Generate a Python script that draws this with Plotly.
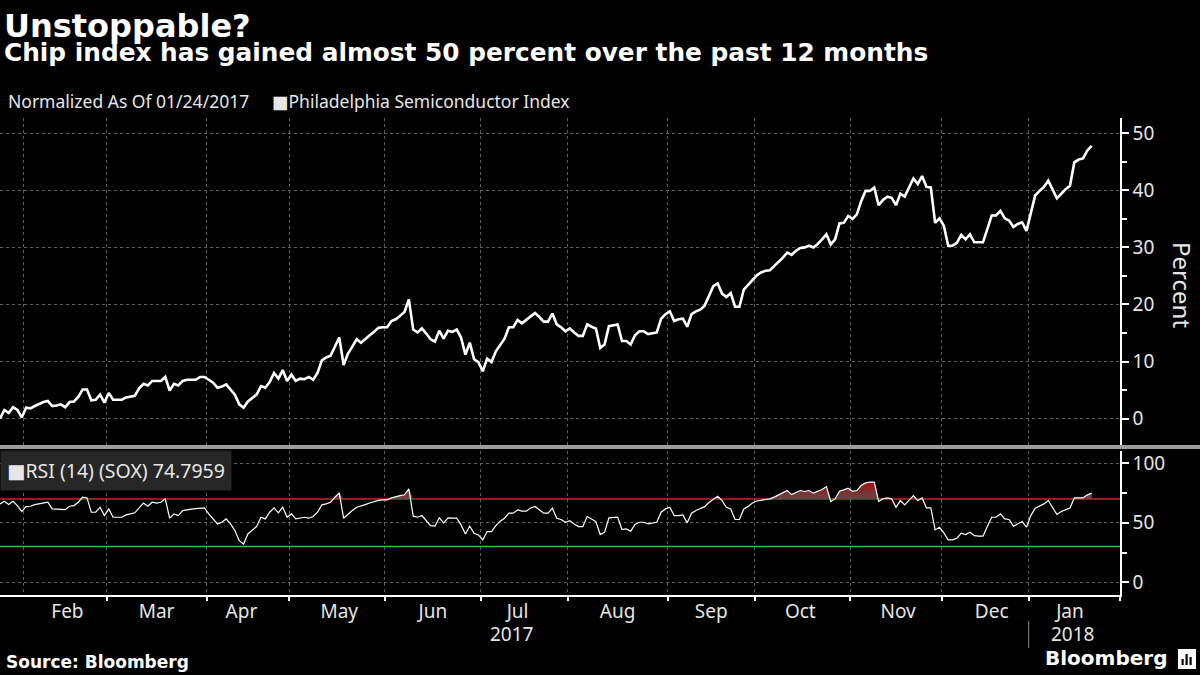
import numpy as np
import pandas as pd
import plotly.graph_objects as go
from plotly.subplots import make_subplots

# ---------------- text ----------------
TITLE = "Unstoppable?"
SUBTITLE = "Chip index has gained almost 50 percent over the past 12 months"
NORMALIZED_NOTE = "Normalized As Of 01/24/2017"
SERIES_NAME = "Philadelphia Semiconductor Index"
RSI_NAME = "RSI (14) (SOX)"
Y_TITLE = "Percent"
SOURCE = "Source: Bloomberg"
BRAND = "Bloomberg"
YEAR_LABELS = ["2017", "2018"]

# ---------------- calendar (trading days) ----------------
START_DATE = "2017-01-24"
END_DATE = "2018-01-23"
HOLIDAYS = ["2017-02-20", "2017-04-14", "2017-05-29", "2017-07-04", "2017-09-04",
            "2017-11-23", "2017-12-25", "2018-01-01", "2018-01-15"]
TRADING_DAYS = pd.bdate_range(START_DATE, END_DATE, freq="C", holidays=HOLIDAYS)

# ---------------- data ----------------
SOX_PCT = [
    0.0, 1.5, 1.0, 2.0, 1.5, 0.2, 1.9, 1.8, 2.2, 2.6,
    2.9, 3.1, 2.2, 2.3, 2.5, 2.0, 2.9, 3.0, 3.8, 5.1,
    5.1, 3.2, 3.3, 4.2, 2.8, 4.5, 3.3, 3.3, 3.3, 3.7,
    3.8, 4.0, 5.3, 6.1, 5.8, 6.6, 6.6, 6.6, 7.3, 4.9,
    6.1, 5.8, 6.6, 6.8, 6.8, 6.8, 7.3, 7.3, 6.8, 6.3,
    5.4, 5.6, 6.0, 5.0, 4.2, 2.5, 1.9, 3.0, 3.6, 4.2,
    5.7, 5.4, 6.4, 8.0, 7.0,
    8.5, 6.6, 7.7, 6.6, 7.0, 6.9, 7.3, 6.8, 8.0, 10.2,
    10.7, 11.0, 12.7, 14.2, 9.4, 11.4, 12.6, 13.9, 13.3, 14.0,
    14.6, 15.2, 15.9, 16.0, 16.0, 17.1, 17.4, 18.0, 18.7, 20.9,
    15.6, 15.1, 15.8, 14.9, 13.9, 13.5, 15.4, 14.0, 15.4, 15.2,
    15.6, 14.2, 11.2, 13.3, 10.4, 9.9, 8.3, 10.5, 9.9, 11.8,
    13.0, 14.0, 16.0, 16.0, 17.3, 16.7, 17.3, 17.9, 18.5, 17.8,
    17.0, 17.0, 18.4, 16.5, 16.0, 15.3,
    15.8, 15.1, 14.5, 14.5, 16.5, 16.1, 15.8, 12.4, 13.0, 16.2,
    16.4, 16.5, 13.6, 13.6, 13.0, 14.6, 15.3, 15.3, 14.8, 15.0,
    15.1, 17.5, 18.3, 18.8, 17.1, 17.4, 17.5, 16.1, 18.3, 18.8,
    19.1, 19.8, 21.5, 23.2, 23.7, 21.9, 21.3, 22.0, 19.6, 19.6,
    22.6, 23.5, 24.4, 25.1, 25.6, 25.9, 26.0, 26.7, 27.5, 28.2,
    29.1, 28.7, 29.4, 29.9, 30.0, 30.3, 30.0, 30.6, 31.4, 32.3,
    30.5, 31.4,
    34.2, 34.3, 35.5, 35.0, 35.8, 38.1, 39.9, 39.9, 40.5, 37.4,
    38.3, 38.9, 38.7, 37.4, 39.4, 38.9, 40.5, 42.1, 41.1, 42.5,
    40.6, 40.5, 34.3, 35.1, 33.8, 30.3, 30.3, 30.8, 32.2, 31.4,
    32.3, 30.9, 30.9, 30.9, 33.2, 35.6, 35.6, 36.4, 35.1, 34.7,
    33.6, 34.1, 34.4, 32.9, 36.0, 39.1, 39.9, 40.6, 41.7, 40.2,
    38.6, 39.4, 40.2, 40.8, 44.9, 45.4, 45.6, 47.0, 47.8,
]

RSI_14 = [
    65.8, 68.0, 65.2, 68.0, 64.4, 59.4, 63.6, 63.8, 65.2, 66.0,
    66.6, 67.2, 61.6, 61.6, 61.4, 61.0, 63.8, 64.4, 67.2, 71.4,
    70.8, 58.8, 58.8, 63.0, 56.0, 61.6, 54.6, 54.6, 54.6, 56.6,
    57.5, 58.3, 62.4, 66.4, 63.8, 67.2, 66.4, 67.2, 70.0, 53.8,
    57.4, 56.0, 60.2, 61.0, 61.4, 61.8, 62.2, 62.4, 57.4, 53.0,
    49.0, 50.4, 53.2, 49.0, 43.4, 35.0, 32.2, 40.6, 43.4, 46.8,
    54.6, 53.2, 58.8, 62.4, 58.3, 63.0, 54.6, 57.4, 53.2, 53.8,
    54.6, 53.8, 55.2, 58.8, 65.0, 65.8, 67.2, 71.4, 75.0, 53.8,
    57.4, 60.2, 63.0, 63.8, 65.2,
    66.5, 67.8, 68.7, 69.2, 69.2, 70.8, 72.0, 72.7, 73.4, 78.4,
    55.5, 54.6, 56.0, 51.8, 47.6, 47.1, 54.1, 49.9, 54.1, 53.8,
    53.8, 48.2, 40.6, 47.1, 41.2, 39.8, 35.6, 42.6, 42.6, 47.6,
    51.3, 53.8, 58.0, 58.0, 60.8, 59.7, 59.7, 62.4, 63.6, 60.8,
    58.0, 58.0, 62.2, 53.8, 52.7, 50.4, 51.8, 49.0, 46.8, 46.8,
    55.2, 53.2, 51.0, 40.1, 42.0, 54.1, 54.6, 54.6, 44.3, 44.8,
    42.9, 48.5, 50.4, 50.4, 49.0, 49.5, 50.4, 58.8, 61.6, 63.0,
    56.0, 56.0, 56.6, 49.9, 58.0, 60.2, 61.6, 63.5, 67.0, 70.0,
    72.2, 68.6, 63.0, 61.6, 52.7, 52.7, 61.6, 63.7,
    66.5, 68.2, 68.8, 69.4, 70.0, 71.5, 73.5, 75.5, 77.0, 73.6,
    75.6, 77.0, 76.2, 77.0, 74.8, 76.4, 77.8, 80.3, 67.8, 70.0,
    76.4, 77.6, 79.0, 76.4, 77.0, 81.2, 83.4, 84.0, 84.0, 68.0,
    70.0, 70.8, 70.0, 63.0, 68.6, 65.0, 68.6, 72.8, 68.6, 70.8,
    62.4, 62.4, 44.0, 46.2, 41.5, 35.6, 35.6, 37.0, 41.2, 40.1,
    42.0, 39.2, 38.7, 38.7, 46.8, 54.6, 54.6, 57.4, 53.2, 52.7,
    47.1, 49.0, 51.0, 46.2, 56.0, 62.2, 63.8, 65.8, 68.6, 62.2,
    56.9, 59.4, 61.0, 62.4, 70.8, 70.8, 70.8, 73.4, 74.7959,
]

OVERBOUGHT = 70
OVERSOLD = 30
PCT_TICK_STEP = 10
RSI_TICK_STEP = 50

# ---------------- styling ----------------
W, H = 1200, 675
ML, MR, MT, MB = 0, 80, 118, 80
PW, PH = W - ML - MR, H - MT - MB

WHITE = "#ffffff"
TXT = "#e6e6e6"
GRID = "#5e5e5e"
SANS = "Noto Sans, DejaVu Sans, sans-serif"
BOLD = "DejaVu Sans, Verdana, sans-serif"
DAY_MS = 86400000


def px_x(px):
    return (px - ML) / PW


def px_y(py):
    return (H - MB - py) / PH


dates = TRADING_DAYS
rsi = np.array(RSI_14)

fig = make_subplots(rows=2, cols=1, shared_xaxes=True, vertical_spacing=0)

common = dict(x=dates, xperiod=DAY_MS, xperiodalignment="middle", hoverinfo="skip",
              showlegend=False)

fig.add_trace(go.Scatter(y=SOX_PCT, mode="lines", name=SERIES_NAME,
                         line=dict(color=WHITE, width=2.6), **common), row=1, col=1)

# overbought shading (between the 70 level and the RSI line where it is above)
fig.add_trace(go.Scatter(y=np.full(len(rsi), OVERBOUGHT), mode="lines",
                         line=dict(width=0), **common), row=2, col=1)
fig.add_trace(go.Scatter(y=np.maximum(rsi, OVERBOUGHT), mode="lines", line=dict(width=0),
                         fill="tonexty",
                         fillgradient=dict(type="vertical", start=OVERBOUGHT, stop=85,
                                           colorscale=[[0, "#5f4848"], [1, "#a80c0c"]]),
                         **common), row=2, col=1)
fig.add_trace(go.Scatter(y=rsi, mode="lines", name=RSI_NAME,
                         line=dict(color=WHITE, width=1.2), **common), row=2, col=1)

rangebreaks = [dict(bounds=["sat", "mon"]), dict(values=HOLIDAYS)]
x_range = ["2017-01-24 12:00", "2018-02-01"]

fig.update_xaxes(rangebreaks=rangebreaks, range=x_range, tick0="2017-01-01", dtick="M1",
                 showgrid=True, gridcolor=GRID, gridwidth=1, griddash="3px,3px",
                 zeroline=False)
fig.update_xaxes(row=1, col=1, showticklabels=False, ticks="", showline=False)
fig.update_xaxes(row=2, col=1, ticklabelmode="period", tickformat="%b",
                 tickfont=dict(family=SANS, size=19, color=TXT), ticklabelstandoff=-6,
                 ticks="outside", ticklen=4, tickwidth=1.5, tickcolor=WHITE,
                 showline=True, linecolor=WHITE, linewidth=1.5)

yax_common = dict(side="right", showline=True, linecolor=WHITE, linewidth=1.5,
                  ticks="outside", ticklen=7, tickwidth=2, tickcolor=WHITE,
                  tickfont=dict(family=SANS, size=19, color=TXT),
                  showgrid=True, gridcolor=GRID, gridwidth=1, griddash="3px,3px",
                  zeroline=False, tick0=0, automargin=False)
fig.update_yaxes(row=1, col=1, range=[-4.98, 52.68], dtick=PCT_TICK_STEP,
                 minor=dict(dtick=PCT_TICK_STEP / 2, tick0=0, ticks="outside", ticklen=5,
                            tickwidth=1.5, tickcolor=WHITE, showgrid=False),
                 **yax_common)
fig.update_yaxes(row=2, col=1, range=[-10.6, 110.4], dtick=RSI_TICK_STEP,
                 minor=dict(dtick=RSI_TICK_STEP / 2, tick0=0, ticks="outside", ticklen=5,
                            tickwidth=1.5, tickcolor=WHITE, showgrid=False),
                 **yax_common)

fig.update_layout(
    width=W, height=H,
    margin=dict(l=ML, r=MR, t=MT, b=MB, autoexpand=False),
    paper_bgcolor="#000000", plot_bgcolor="#000000",
    yaxis=dict(domain=[px_y(447), 1]),
    yaxis2=dict(domain=[0, px_y(450.7)]),
    hovermode=False,
)

shapes = [
    # overbought / oversold levels
    dict(type="line", xref="x2 domain", x0=0, x1=1, yref="y2", y0=OVERBOUGHT, y1=OVERBOUGHT,
         line=dict(color="#c4262c", width=1.5), layer="below"),
    dict(type="line", xref="x2 domain", x0=0, x1=1, yref="y2", y0=OVERSOLD, y1=OVERSOLD,
         line=dict(color="#3cba3c", width=1.5), layer="below"),
    # panel separator
    dict(type="line", xref="paper", x0=0, x1=px_x(W), yref="paper", y0=px_y(447), y1=px_y(447),
         line=dict(color="#9c9c9c", width=4)),
    # year separator
    dict(type="line", xref="x2", x0="2018-01-01", x1="2018-01-01", yref="paper",
         y0=px_y(621), y1=px_y(648), line=dict(color="#8a8a8a", width=1)),
    # Bloomberg icon
    dict(type="rect", xref="paper", yref="paper", x0=px_x(1178), x1=px_x(1196),
         y0=px_y(669), y1=px_y(649), fillcolor=WHITE, line=dict(width=0)),
]
for bx0, btop in [(1181.5, 659), (1185.5, 654), (1189.5, 657)]:
    shapes.append(dict(type="rect", xref="paper", yref="paper", x0=px_x(bx0), x1=px_x(bx0 + 2.2),
                       y0=px_y(665), y1=px_y(btop), fillcolor="#000000", line=dict(width=0)))
fig.update_layout(shapes=shapes)

ann = [
    dict(text=f"<b>{TITLE}</b>", x=px_x(2), y=px_y(26), xanchor="left", yanchor="middle",
         font=dict(family=BOLD, size=32, color=WHITE)),
    dict(text=f"<b>{SUBTITLE}</b>", x=px_x(2), y=px_y(53), xanchor="left", yanchor="middle",
         font=dict(family=BOLD, size=24.8, color=WHITE)),
    dict(text=NORMALIZED_NOTE, x=px_x(6), y=px_y(101), xanchor="left", yanchor="middle",
         font=dict(family=SANS, size=17.5, color=TXT)),
    dict(text="■" + SERIES_NAME, x=px_x(270), y=px_y(101), xanchor="left", yanchor="middle",
         font=dict(family=SANS, size=17.5, color=TXT)),
    dict(text=f"■{RSI_NAME} {RSI_14[-1]:.4f}", x=px_x(0), y=px_y(449.5), xanchor="left",
         yanchor="top", bgcolor="#262626", borderpad=6,
         font=dict(family=SANS, size=19.5, color=TXT)),
    dict(text=Y_TITLE, x=px_x(1183), y=px_y(285), xanchor="center", yanchor="middle",
         textangle=90, font=dict(family=SANS, size=24, color=TXT)),
    dict(text=YEAR_LABELS[0], xref="x2", x="2017-07-13", y=px_y(634), xanchor="center",
         yanchor="middle", font=dict(family=SANS, size=19, color=TXT)),
    dict(text=YEAR_LABELS[1], xref="x2", x="2018-01-17", y=px_y(634), xanchor="center",
         yanchor="middle", font=dict(family=SANS, size=19, color=TXT)),
    dict(text=f"<b>{SOURCE}</b>", x=px_x(4), y=px_y(662), xanchor="left", yanchor="middle",
         font=dict(family=BOLD, size=17, color=WHITE)),
    dict(text=f"<b>{BRAND}</b>", x=px_x(1169), y=px_y(658), xanchor="right", yanchor="middle",
         font=dict(family=BOLD, size=20, color=WHITE)),
]
for a in ann:
    a.setdefault("xref", "paper")
    a.setdefault("yref", "paper")
    a["showarrow"] = False
fig.update_layout(annotations=ann)

fig.write_html("out.html", config={"displayModeBar": False},
               post_script="document.body.style.margin='0px';"
                           "document.body.style.overflow='hidden';")
